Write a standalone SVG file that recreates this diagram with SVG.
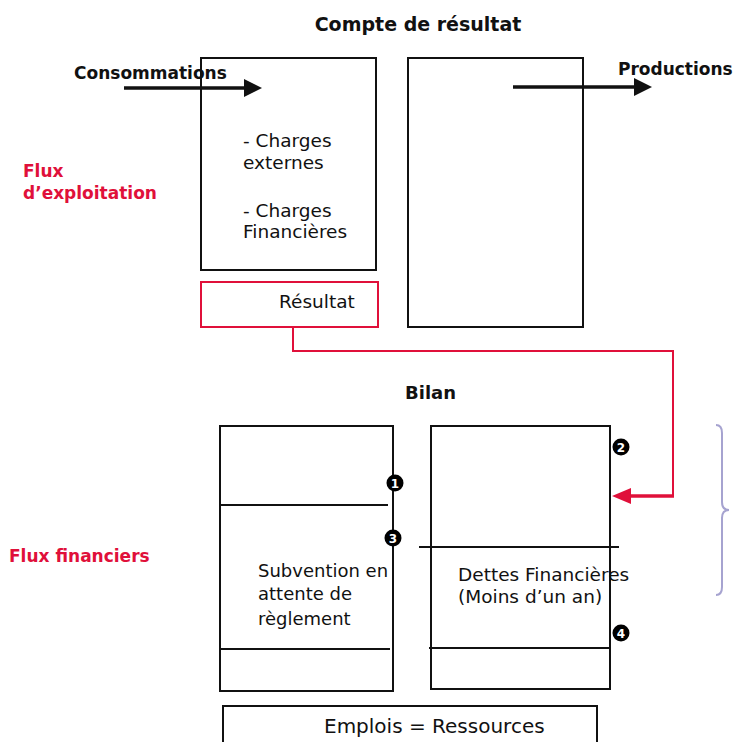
<svg xmlns="http://www.w3.org/2000/svg" width="734" height="742" viewBox="0 0 734 742">
<style>
text{font-family:"DejaVu Sans","Liberation Sans",sans-serif;fill:#111}
.b{font-weight:bold}
.red{fill:#e0103a}
.box{fill:#fff;stroke:#111;stroke-width:2}
.ln{stroke:#111;stroke-width:2}
.dot{fill:#000}
.num{font-size:12px;font-weight:bold;text-anchor:middle;fill:#fff}
</style>
<rect width="734" height="742" fill="#fff"/>
<text class="b" x="418" y="31" font-size="19" text-anchor="middle">Compte de résultat</text>
<g id="cr-charges">
<rect class="box" x="201" y="58" width="175" height="212"/>
<text x="243" y="147" font-size="18.5">- Charges</text>
<text x="243" y="169" font-size="18.5">externes</text>
<text x="243" y="217" font-size="18.5">- Charges</text>
<text x="243" y="238" font-size="18.5">Financières</text>
</g>
<g id="cr-produits">
<rect class="box" x="408" y="58" width="175" height="269"/>
</g>
<g id="resultat">
<rect x="201" y="282" width="177" height="45" fill="#fff" stroke="#e0103a" stroke-width="2"/>
<text x="279" y="308" font-size="18.5">Résultat</text>
</g>
<g id="label-conso"><text class="b" x="74" y="79" font-size="17">Consommations</text></g>
<g id="label-prod"><text class="b" x="618" y="75" font-size="17">Productions</text></g>
<g id="label-flux-exp">
<text class="b red" x="23" y="177" font-size="17">Flux</text>
<text class="b red" x="23" y="199" font-size="17">d’exploitation</text>
</g>
<g id="label-flux-fin"><text class="b red" x="9" y="562" font-size="17">Flux financiers</text></g>
<text class="b" x="405" y="399" font-size="18">Bilan</text>
<g id="bilan-actif">
<rect class="box" x="220" y="426" width="173" height="265"/>
<line class="ln" x1="220" y1="505" x2="388" y2="505"/>
<line class="ln" x1="220" y1="649" x2="390" y2="649"/>
<text x="258" y="577" font-size="18">Subvention en</text>
<text x="258" y="600" font-size="18">attente de</text>
<text x="258" y="625" font-size="18">règlement</text>
<circle class="dot" cx="395" cy="483" r="8.5"/>
<text class="num" x="395" y="487.5">1</text>
<circle class="dot" cx="393" cy="538" r="8.5"/>
<text class="num" x="393" y="542.5">3</text>
</g>
<g id="bilan-passif">
<rect class="box" x="431" y="426" width="179" height="263"/>
<line class="ln" x1="419" y1="547" x2="619" y2="547"/>
<line class="ln" x1="429" y1="648" x2="610" y2="648"/>
<text x="458" y="581" font-size="18.5">Dettes Financières</text>
<text x="458" y="603" font-size="18.5">(Moins d’un an)</text>
<circle class="dot" cx="621" cy="447" r="8.5"/>
<text class="num" x="621" y="451.5">2</text>
<circle class="dot" cx="621" cy="633" r="8.5"/>
<text class="num" x="621" y="637.5">4</text>
</g>
<g id="equilibre">
<rect class="box" x="223" y="706" width="374" height="50"/>
<text x="324" y="733" font-size="20">Emplois = Ressources</text>
</g>
<g id="brace">
<path d="M716,425 Q722,425 722,433 L722,502 Q722,510 729,510 Q722,510 722,518 L722,587 Q722,595 716,595" fill="none" stroke="#a6a3d0" stroke-width="2"/>
</g>
<g id="connectors">
<line x1="124" y1="88" x2="246" y2="88" stroke="#111" stroke-width="3.5"/>
<polygon points="262,88 244,79 244,97" fill="#111"/>
<line x1="513" y1="87" x2="636" y2="87" stroke="#111" stroke-width="3.5"/>
<polygon points="652,87 634,78 634,96" fill="#111"/>
<path d="M293,327 V351 H673 V496" fill="none" stroke="#e0103a" stroke-width="2"/>
<line x1="674" y1="496" x2="628" y2="496" stroke="#e0103a" stroke-width="3.5"/>
<polygon points="612,496 631,488 631,504" fill="#e0103a"/>
</g>
</svg>
